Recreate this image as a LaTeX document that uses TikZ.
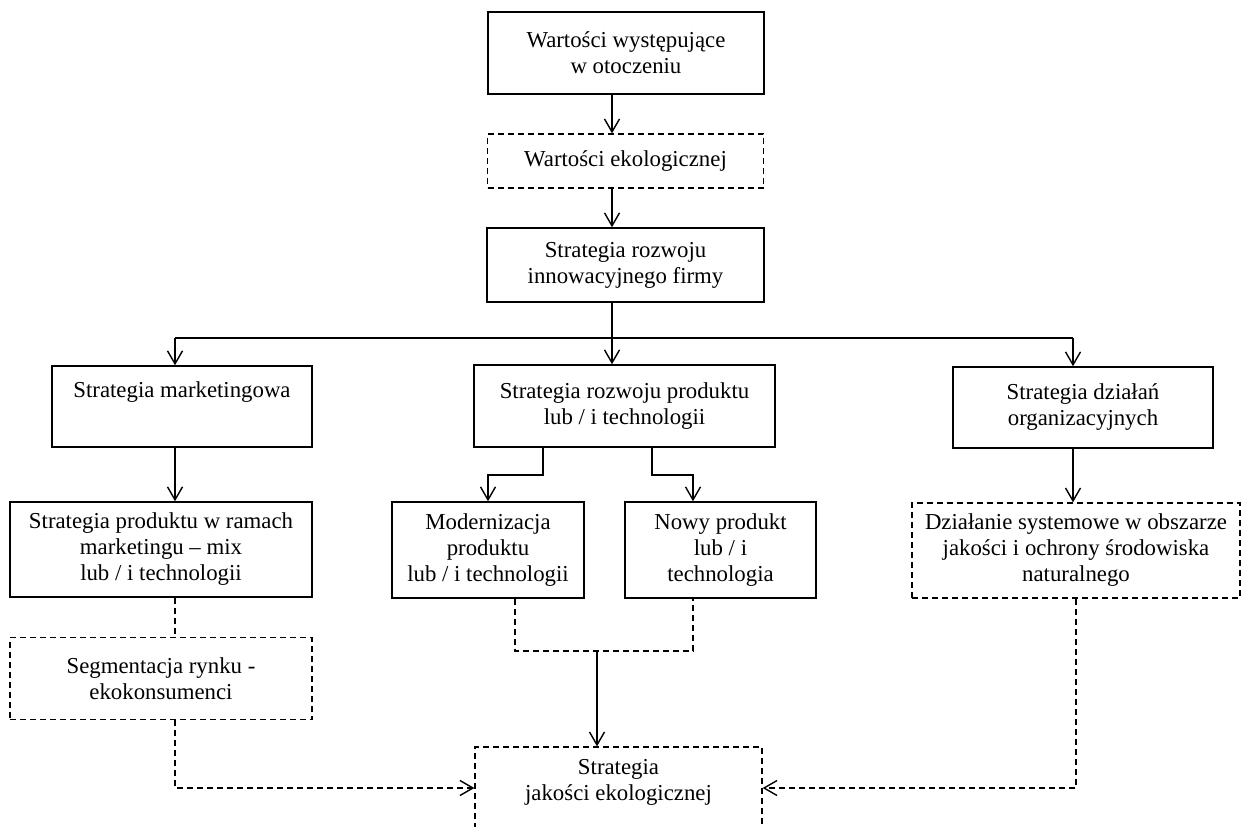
\documentclass[tikz,border=0pt]{standalone}
\usepackage{fontspec}
\setmainfont{Liberation Serif}
\usetikzlibrary{arrows.meta}
\begin{document}
\begin{tikzpicture}[x=1pt,y=-1pt,
  box/.style={draw, line width=1.5pt, rectangle, align=center, inner sep=0pt, font=\fontsize{22.8}{26}\selectfont},
  dbox/.style={box, line width=1.3pt, dash pattern=on 6pt off 4pt},
  ln/.style={line width=1.5pt},
  dln/.style={line width=1.3pt, dash pattern=on 6pt off 4pt},
  barbtip/.style={-{Straight Barb[length=13pt,width=15pt,line width=1.4pt]}},
  arr/.style={ln, barbtip},
  darr/.style={dln, barbtip},
]
\useasboundingbox (0,0) rectangle (1242,827);
\clip (0,0) rectangle (1242,827);

\node[box, minimum width=276pt, minimum height=82pt] (n1) at (626,53) {Wartości występujące\\w otoczeniu};
\node[dbox, minimum width=276pt, minimum height=54pt] (n2) at (625.5,161) {Wartości ekologicznej};
\node[box, minimum width=277pt, minimum height=74pt] (n3) at (625.5,265) {Strategia rozwoju\\innowacyjnego firmy};

\node[box, minimum width=260pt, minimum height=81pt] (m1) at (182,406.5) {Strategia marketingowa\\\strut};
\node[box, minimum width=301pt, minimum height=82pt] (m2) at (624.5,406) {Strategia rozwoju produktu\\lub / i technologii};
\node[box, minimum width=260pt, minimum height=81pt] (m3) at (1083,407.5) {Strategia działań\\organizacyjnych};

\node[box, minimum width=302pt, minimum height=95pt] (p1) at (161,549.5) {Strategia produktu w ramach\\marketingu – mix\\lub / i technologii};
\node[box, minimum width=192pt, minimum height=96pt] (p2) at (488,550) {Modernizacja\\produktu\\lub / i technologii};
\node[box, minimum width=191pt, minimum height=96pt] (p3) at (720.5,550) {Nowy produkt\\lub / i\\technologia};
\node[dbox, minimum width=328pt, minimum height=95pt] (p4) at (1076,550.5) {Działanie systemowe w obszarze\\jakości i ochrony środowiska\\naturalnego};

\node[dbox, minimum width=302pt, minimum height=82pt] (s1) at (161,678.5) {Segmentacja rynku -\\ekokonsumenci};
\node[dbox, minimum width=287pt, minimum height=100pt] (b) at (618.5,797) {Strategia\\jakości ekologicznej\\\strut};

\coordinate (xa) at (612,0);
\coordinate (j) at (612,338);
\coordinate (jl) at (175,338);
\coordinate (jr) at (1073,338);
\coordinate (ml) at (543,475);
\coordinate (mr) at (652,475);
\coordinate (xp3) at (693,0);
\coordinate (bl) at (175,788);
\coordinate (br) at (1076,788);
\coordinate (dl) at (515,651);
\coordinate (dr) at (693,651);
\coordinate (dm) at (597,651);

\draw[arr] (n1.south -| xa) -- (n2.north -| xa);
\draw[arr] (n2.south -| xa) -- (n3.north -| xa);
\draw[ln] (n3.south -| xa) -- (j);
\draw[ln] (jl) -- (jr);
\draw[arr] (jl) -- (m1.north -| jl);
\draw[arr] (j) -- (m2.north -| j);
\draw[arr] (jr) -- (m3.north -| jr);
\draw[arr] (m1.south -| jl) -- (p1.north -| jl);
\draw[arr] (m2.south -| ml) -- (ml) -| (p2.north);
\draw[arr] (m2.south -| mr) -- (mr) -| (p3.north -| xp3);
\draw[arr] (m3.south -| jr) -- (p4.north -| jr);
\draw[dln] (p1.south -| jl) -- (s1.north -| jl);
\draw[darr] (s1.south -| jl) -- (bl) -- (b.west |- bl);
\draw[dln] (p2.south -| dl) -- (dl) -- (dr) -- (p3.south -| dr);
\draw[arr] (dm) -- (b.north -| dm);
\draw[darr] (p4.south -| br) -- (br) -- (b.east |- br);
\end{tikzpicture}
\end{document}
